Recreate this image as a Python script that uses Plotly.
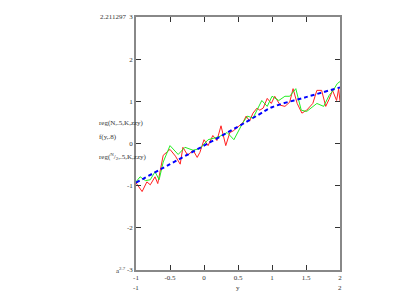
import plotly.graph_objects as go

red_x = [-1.01, -0.91, -0.84, -0.79, -0.72, -0.68, -0.60, -0.55, -0.50, -0.42, -0.35, -0.31, -0.24, -0.16, -0.10,
         -0.06, 0.00, 0.06, 0.13, 0.19, 0.25, 0.32, 0.38, 0.43, 0.51, 0.57, 0.62, 0.67, 0.72, 0.78, 0.82, 0.87, 0.93,
         0.99, 1.04, 1.12, 1.19, 1.26, 1.31, 1.37, 1.44, 1.51, 1.60, 1.66, 1.73, 1.79, 1.84, 1.89, 1.95, 1.98, 2.00]
red_y = [-0.91, -1.14, -0.91, -0.98, -0.79, -0.95, -0.28, -0.20, -0.14, -0.30, -0.49, -0.09, -0.28, -0.16, -0.33,
         -0.21, 0.09, -0.05, 0.19, 0.07, 0.42, -0.05, 0.26, 0.30, 0.40, 0.49, 0.65, 0.53, 0.72, 0.84, 0.79, 0.84, 1.07,
         0.95, 1.12, 0.91, 0.88, 0.98, 1.30, 0.95, 0.72, 0.79, 0.95, 1.26, 1.26, 0.88, 1.05, 1.26, 1.02, 1.30, 1.00]

green_x = [-1.01, -0.94, -0.86, -0.79, -0.72, -0.66, -0.60, -0.50, -0.38, -0.28, -0.16, -0.06, 0.06, 0.22, 0.34,
           0.44, 0.57, 0.64, 0.72, 0.85, 0.93, 0.96, 1.00, 1.10, 1.19, 1.26, 1.35, 1.43, 1.51, 1.66, 1.76, 1.84, 1.90,
           1.96, 2.00]
green_y = [-0.93, -0.79, -0.88, -0.86, -0.67, -0.86, -0.44, -0.05, -0.26, -0.09, -0.16, -0.12, 0.09, 0.16, 0.26,
           0.09, 0.49, 0.65, 0.60, 1.02, 0.88, 1.00, 1.12, 1.02, 1.12, 1.12, 1.30, 0.79, 0.76, 0.95, 0.88, 1.14, 1.26,
           1.42, 1.47]

blue_x = [-1.0, -0.5, 0.0, 0.5, 0.8, 1.0, 1.5, 2.0]
blue_y = [-0.93, -0.49, -0.05, 0.40, 0.68, 0.86, 1.10, 1.33]

x_ticks = [-1, -0.5, 0, 0.5, 1, 1.5, 2]
y_ticks = [-3, -2, -1, 0, 1, 2, 3]

FONT = "Liberation Serif"

fig = go.Figure()
fig.add_trace(go.Scatter(x=red_x, y=red_y, mode="lines", line=dict(color="#ff2020", width=1), showlegend=False))
fig.add_trace(go.Scatter(x=green_x, y=green_y, mode="lines", line=dict(color="#22ee22", width=1), showlegend=False))
fig.add_trace(go.Scatter(x=blue_x, y=blue_y, mode="lines",
                         line=dict(color="#0000ff", width=2, dash="4px,3px", shape="spline"),
                         showlegend=False))

axis_common = dict(showgrid=False, zeroline=False, showline=True, linecolor="#888888", linewidth=1.5,
                   mirror="allticks", ticks="inside", ticklen=5, tickcolor="#333333",
                   tickfont=dict(family=FONT, size=7, color="#333333"))
fig.update_xaxes(range=[-1, 2], tickvals=x_ticks, ticktext=[str(v) for v in x_ticks], **axis_common)
fig.update_yaxes(range=[-3, 3], tickvals=y_ticks, ticktext=[str(v) for v in y_ticks], **axis_common)

annos = [
    dict(x=-0.19, y=0.58, text="reg(N,.5,K,zzy)", xanchor="left"),
    dict(x=-0.19, y=0.525, text="f(y,.8)", xanchor="left"),
    dict(x=-0.19, y=0.447, text="reg(<sup>N</sup>/<sub>2</sub>,.5,K,zzy)", xanchor="left"),
    dict(x=-0.04, y=1.0, text="2.211297", xanchor="right"),
    dict(x=-0.04, y=0.0, text="a<sup>2.7</sup>", xanchor="right"),
    dict(x=0.0, y=-0.07, text="-1", xanchor="center"),
    dict(x=0.5, y=-0.07, text="y", xanchor="center"),
    dict(x=1.0, y=-0.07, text="2", xanchor="center"),
]
for a in annos:
    fig.add_annotation(xref="paper", yref="paper", showarrow=False, yanchor="middle",
                       font=dict(family=FONT, size=7, color="#333333"), **a)

fig.update_layout(width=400, height=285, margin=dict(l=128, r=68, t=5, b=23),
                  paper_bgcolor="white", plot_bgcolor="white")
fig.write_html("out.html")
